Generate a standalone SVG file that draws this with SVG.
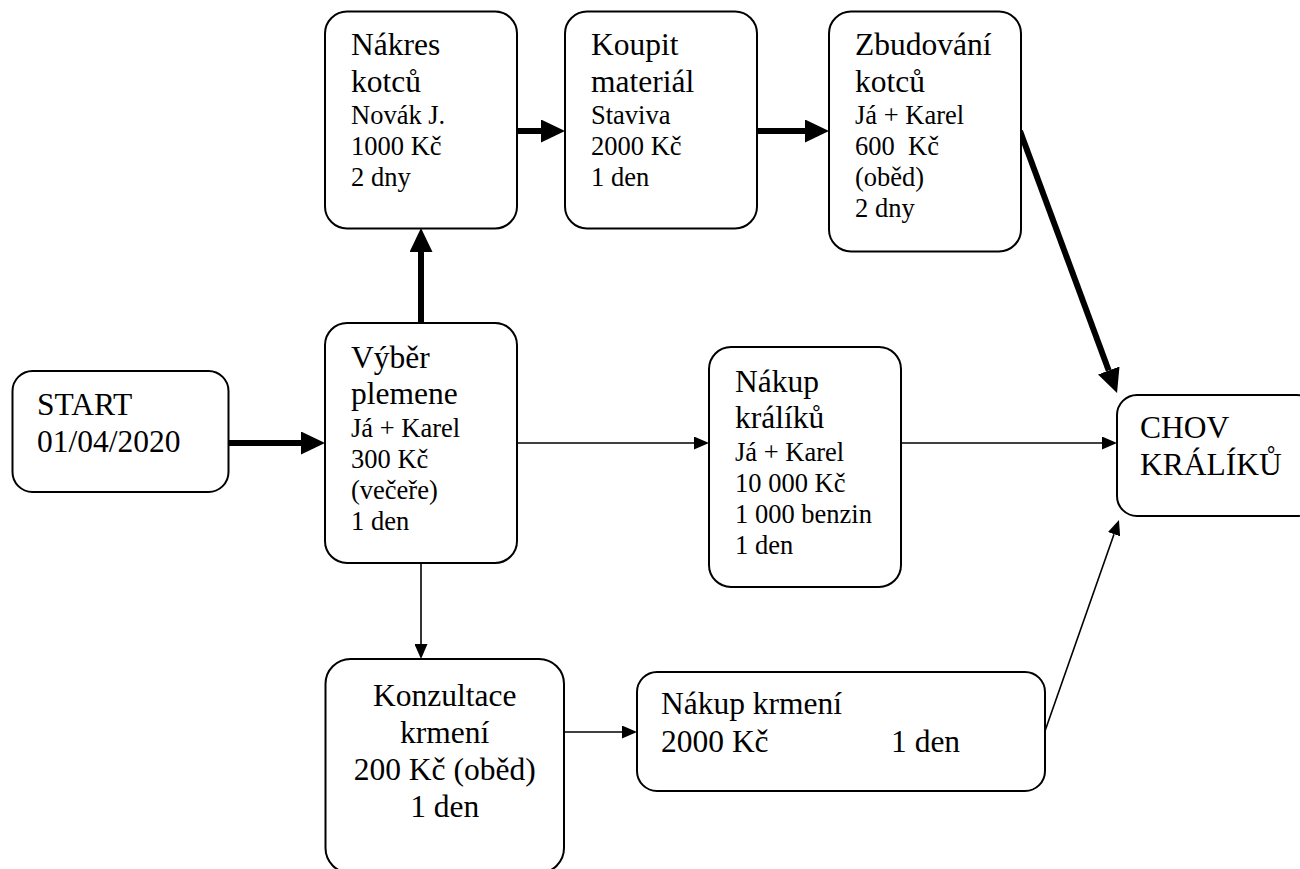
<svg xmlns="http://www.w3.org/2000/svg" width="1300" height="869" viewBox="0 0 1300 869">
<style>
.box{fill:#fff;stroke:#000;stroke-width:2}
.l{font-size:31.5px}
.s{font-size:26.5px}
.thick{stroke:#000;stroke-width:6;fill:none}
.thin{stroke:#000;stroke-width:1.6;fill:none}
</style>
<defs>
<marker id="hb" viewBox="0 0 24 23" markerWidth="24" markerHeight="23" refX="0" refY="11.5" orient="auto" markerUnits="userSpaceOnUse"><path d="M0,0 L24,11.5 L0,23 z" fill="#000"/></marker>
<marker id="hs" viewBox="0 0 15 13" markerWidth="15" markerHeight="13" refX="0" refY="6.5" orient="auto" markerUnits="userSpaceOnUse"><path d="M0,0 L15,6.5 L0,13 z" fill="#000"/></marker>
</defs>
<rect width="1300" height="869" fill="#fff"/>
<g id="connectors">
<line class="thick" x1="228" y1="443" x2="301" y2="443" marker-end="url(#hb)"/>
<line class="thick" x1="421" y1="323" x2="421" y2="252" marker-end="url(#hb)"/>
<line class="thick" x1="517" y1="131" x2="541" y2="131" marker-end="url(#hb)"/>
<line class="thick" x1="757" y1="131" x2="805" y2="131" marker-end="url(#hb)"/>
<line class="thick" x1="1020" y1="131" x2="1108.7" y2="370.5" marker-end="url(#hb)"/>
<line class="thin" x1="517" y1="443" x2="694" y2="443" marker-end="url(#hs)"/>
<line class="thin" x1="901" y1="443" x2="1102" y2="443" marker-end="url(#hs)"/>
<line class="thin" x1="421" y1="563" x2="421" y2="644" marker-end="url(#hs)"/>
<line class="thin" x1="564" y1="732" x2="622" y2="732" marker-end="url(#hs)"/>
<line class="thin" x1="1045" y1="731" x2="1114" y2="534.2" marker-end="url(#hs)"/>
</g>
<g font-family="'Liberation Serif', Tinos, 'DejaVu Serif', serif" fill="#000">
<g id="start">
<rect class="box" x="12.5" y="371" width="216" height="121" rx="20"/>
<text class="l" x="37" y="415">START</text>
<text class="l" x="37" y="451.5">01/04/2020</text>
</g>
<g id="nakres">
<rect class="box" x="325" y="11.5" width="192" height="217" rx="22"/>
<text class="l" x="351" y="55">Nákres</text>
<text class="l" x="351" y="92">kotců</text>
<text class="s" x="351" y="124">Novák J.</text>
<text class="s" x="351" y="155">1000 Kč</text>
<text class="s" x="351" y="186">2 dny</text>
</g>
<g id="koupit">
<rect class="box" x="565" y="11.5" width="192" height="217" rx="22"/>
<text class="l" x="591" y="55">Koupit</text>
<text class="l" x="591" y="92">materiál</text>
<text class="s" x="591" y="124">Staviva</text>
<text class="s" x="591" y="155">2000 Kč</text>
<text class="s" x="591" y="186">1 den</text>
</g>
<g id="zbudovani">
<rect class="box" x="829" y="11.5" width="192" height="240" rx="22"/>
<text class="l" x="855" y="55">Zbudování</text>
<text class="l" x="855" y="92">kotců</text>
<text class="s" x="855" y="124">Já + Karel</text>
<text class="s" x="855" y="155" xml:space="preserve">600  Kč</text>
<text class="s" x="855" y="186">(oběd)</text>
<text class="s" x="855" y="217">2 dny</text>
</g>
<g id="vyber">
<rect class="box" x="325" y="323" width="192" height="240" rx="22"/>
<text class="l" x="351" y="368">Výběr</text>
<text class="l" x="351" y="404">plemene</text>
<text class="s" x="351" y="436.5">Já + Karel</text>
<text class="s" x="351" y="467.5">300 Kč</text>
<text class="s" x="351" y="498.5">(večeře)</text>
<text class="s" x="351" y="529.5">1 den</text>
</g>
<g id="nakup-kraliku">
<rect class="box" x="709" y="347" width="192" height="240" rx="22"/>
<text class="l" x="735" y="391.5">Nákup</text>
<text class="l" x="735" y="428">králíků</text>
<text class="s" x="735" y="460.5">Já + Karel</text>
<text class="s" x="735" y="491.5">10 000 Kč</text>
<text class="s" x="735" y="522.5">1 000 benzin</text>
<text class="s" x="735" y="553.5">1 den</text>
</g>
<g id="chov">
<rect class="box" x="1117" y="395" width="200" height="121" rx="20"/>
<text class="l" x="1140" y="438">CHOV</text>
<text class="l" x="1140" y="475">KRÁLÍKŮ</text>
</g>
<g id="konzultace">
<rect class="box" x="325.5" y="659" width="238.5" height="214" rx="25"/>
<text class="l" x="444.7" y="705.5" text-anchor="middle">Konzultace</text>
<text class="l" x="444.7" y="742.5" text-anchor="middle">krmení</text>
<text class="l" x="444.7" y="779.5" text-anchor="middle">200 Kč (oběd)</text>
<text class="l" x="444.7" y="816.5" text-anchor="middle">1 den</text>
</g>
<g id="nakup-krmeni">
<rect class="box" x="637" y="672" width="408" height="119" rx="20"/>
<text class="l" x="661" y="714">Nákup krmení</text>
<text class="l" x="661" y="751.5">2000 Kč</text>
<text class="l" x="891" y="751.5">1 den</text>
</g>
</g>
</svg>
